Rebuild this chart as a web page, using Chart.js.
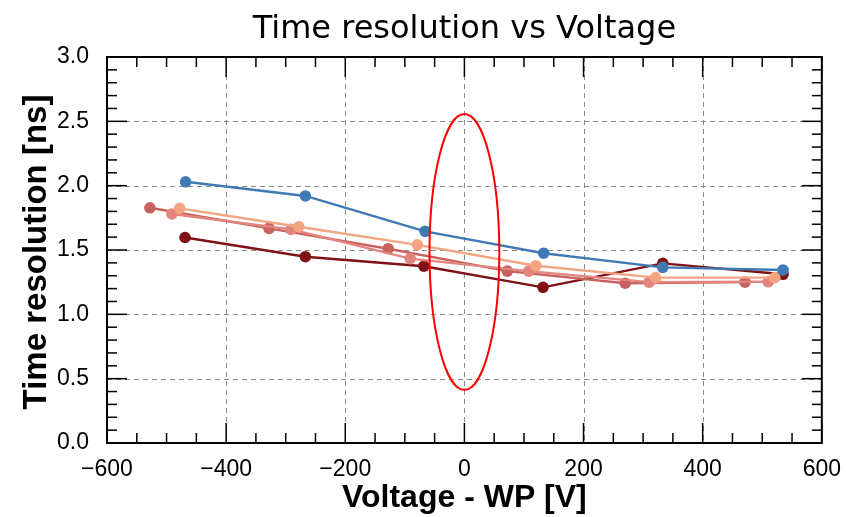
<!DOCTYPE html>
<html>
<head>
<meta charset="utf-8">
<script src="https://cdn.jsdelivr.net/npm/chart.js@4.4.1/dist/chart.umd.min.js"></script>
<style>
  html, body { margin: 0; padding: 0; background: #fff; }
  canvas { display: block; }
</style>
</head>
<body>
<canvas id="chart" width="846" height="517"></canvas>
<script>
// labels
const titleText = 'Time resolution vs Voltage';
const xTitle = 'Voltage - WP [V]';
const yTitle = 'Time resolution [ns]';

// voltage offsets from working point (V) and time resolution (ns), one pair per series
const blueX     = [-468, -267, -66, 133, 333, 535];
const blueY     = [2.03, 1.92, 1.645, 1.475, 1.365, 1.345];
const salmonX   = [-478, -278, -79, 120, 321, 521];
const salmonY   = [1.824, 1.681, 1.54, 1.378, 1.285, 1.285];
const pinkX     = [-491, -291, -91, 108, 310, 510];
const pinkY     = [1.78, 1.66, 1.433, 1.336, 1.25, 1.253];
const redX      = [-528, -328, -128, 72, 270, 471];
const redY      = [1.828, 1.668, 1.51, 1.336, 1.242, 1.25];
const darkX     = [-469, -267, -68, 132, 333, 535];
const darkY     = [1.597, 1.448, 1.374, 1.21, 1.396, 1.311];

const seriesColors = ['#3f7ab5', '#f3a582', '#e3857f', '#c8625e', '#7e1215'];

// axis ranges
const xMin = -600, xMax = 600, xStep = 200, xMinor = 50;
const yMin = 0, yMax = 3, yStep = 0.5, yMinor = 0.1;

// highlight ellipse, in data units
const ellipseCx = 0, ellipseCy = 1.485, ellipseRx = 58.6, ellipseRy = 1.072;

const gridColor = '#8a8a8a';

function pts(xs, ys) { return xs.map((x, i) => ({ x, y: ys[i] })); }

const datasets = [
  ['series 1', blueX, blueY],
  ['series 2', salmonX, salmonY],
  ['series 3', pinkX, pinkY],
  ['series 4', redX, redY],
  ['series 5', darkX, darkY]
].map(([label, xs, ys], i) => ({
  label,
  data: pts(xs, ys),
  borderColor: seriesColors[i],
  backgroundColor: seriesColors[i],
  borderWidth: 2.4,
  pointRadius: 5.8,
  pointBorderWidth: 0,
  tension: 0
}));

function line(ctx, x1, y1, x2, y2) {
  ctx.beginPath(); ctx.moveTo(x1, y1); ctx.lineTo(x2, y2); ctx.stroke();
}

// dashed grid under the data, framed axes with inward ticks over it
const axesPlugin = {
  id: 'axesPlugin',
  beforeDatasetsDraw(chart) {
    const { ctx, chartArea: a, scales: { x, y } } = chart;
    ctx.save();
    ctx.strokeStyle = gridColor;
    ctx.lineWidth = 1;
    ctx.setLineDash([5, 4]);
    x.ticks.forEach(t => {
      if (t.value <= xMin || t.value >= xMax) return;
      const px = Math.round(x.getPixelForValue(t.value)) + 0.5;
      line(ctx, px, a.top, px, a.bottom);
    });
    y.ticks.forEach(t => {
      if (t.value <= yMin || t.value >= yMax) return;
      const py = Math.round(y.getPixelForValue(t.value)) + 0.5;
      line(ctx, a.left, py, a.right, py);
    });
    ctx.restore();
  },
  afterDatasetsDraw(chart) {
    const { ctx, chartArea: a, scales: { x, y } } = chart;
    ctx.save();
    ctx.strokeStyle = '#000';
    ctx.lineWidth = 1.5;
    ctx.setLineDash([]);
    const nx = Math.round((xMax - xMin) / xMinor);
    for (let k = 0; k <= nx; k++) {
      const v = xMin + k * xMinor;
      const major = Math.abs(v / xStep - Math.round(v / xStep)) < 1e-6;
      const len = major ? 20 : 10;
      const px = x.getPixelForValue(v);
      line(ctx, px, a.bottom, px, a.bottom - len);
      line(ctx, px, a.top, px, a.top + len);
    }
    const ny = Math.round((yMax - yMin) / yMinor);
    for (let k = 0; k <= ny; k++) {
      const v = yMin + k * yMinor;
      const major = k % Math.round(yStep / yMinor) === 0;
      const len = major ? 20 : 10;
      const py = y.getPixelForValue(v);
      line(ctx, a.left, py, a.left + len, py);
      line(ctx, a.right, py, a.right - len, py);
    }
    ctx.lineWidth = 2;
    ctx.strokeRect(a.left, a.top, a.right - a.left, a.bottom - a.top);

    // red ellipse marking the working point
    const cx = x.getPixelForValue(ellipseCx);
    const cy = y.getPixelForValue(ellipseCy);
    const rx = Math.abs(x.getPixelForValue(ellipseCx + ellipseRx) - cx);
    const ry = Math.abs(y.getPixelForValue(ellipseCy + ellipseRy) - cy);
    ctx.strokeStyle = '#ff0000';
    ctx.lineWidth = 2;
    ctx.beginPath();
    ctx.ellipse(cx, cy, rx, ry, 0, 0, Math.PI * 2);
    ctx.stroke();
    ctx.restore();
  },
  afterDraw(chart) {
    const { ctx, chartArea: a } = chart;
    const mid = (a.left + a.right) / 2;
    ctx.save();
    ctx.fillStyle = '#000';
    ctx.textAlign = 'center';
    ctx.textBaseline = 'alphabetic';
    ctx.font = '32px "DejaVu Sans", sans-serif';
    ctx.fillText(titleText, mid, 38);
    ctx.font = 'bold 32px "Liberation Sans", Arial, sans-serif';
    ctx.fillText(xTitle, mid, 507);
    ctx.font = 'bold 33px "Liberation Sans", Arial, sans-serif';
    ctx.translate(46, 252);
    ctx.rotate(-Math.PI / 2);
    ctx.fillText(yTitle, 0, 0);
    ctx.restore();
  }
};

new Chart(document.getElementById('chart'), {
  type: 'line',
  data: { datasets },
  options: {
    responsive: false,
    animation: false,
    devicePixelRatio: 1,
    layout: { padding: { top: 57, right: 22, left: 0, bottom: 0 } },
    plugins: { legend: { display: false }, tooltip: { enabled: false }, title: { display: false } },
    scales: {
      x: {
        type: 'linear',
        min: xMin, max: xMax,
        grid: { display: false },
        border: { display: false },
        ticks: {
          stepSize: xStep,
          padding: 5,
          color: '#000',
          font: { family: '"Liberation Sans", Arial, sans-serif', size: 23 },
          maxRotation: 0,
          callback: v => v < 0 ? '\u2212' + Math.abs(v) : String(v)
        },
        afterFit(scale) { scale.height = 74; }
      },
      y: {
        type: 'linear',
        min: yMin, max: yMax,
        grid: { display: false },
        border: { display: false },
        ticks: {
          stepSize: yStep,
          padding: 10,
          color: '#000',
          font: { family: '"Liberation Sans", Arial, sans-serif', size: 23 },
          callback: v => Number(v).toFixed(1)
        },
        afterFit(scale) { scale.width = 107; }
      }
    }
  },
  plugins: [axesPlugin]
});
</script>
</body>
</html>
